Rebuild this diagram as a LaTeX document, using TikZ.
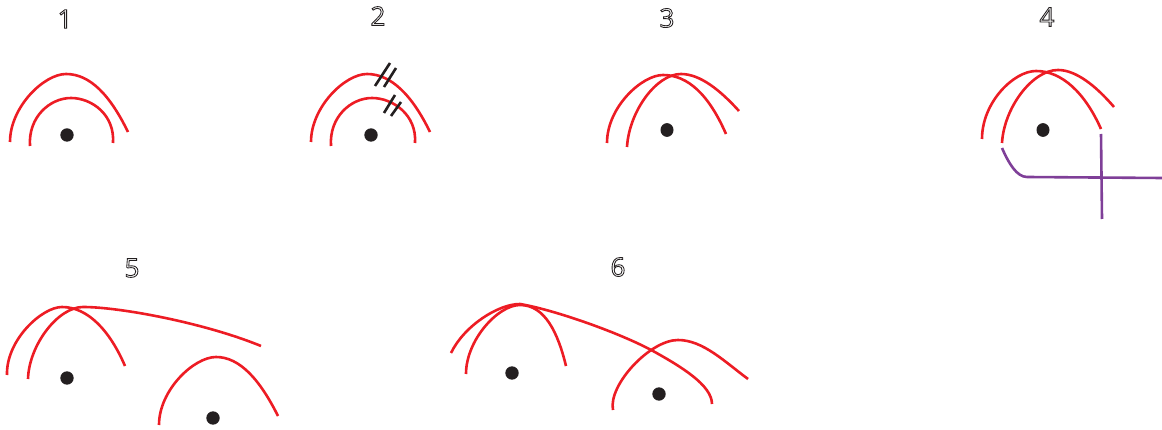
\documentclass[tikz,border=0pt]{standalone}
\usepackage{fontspec}
\setmainfont{Open Sans}
\definecolor{rd}{RGB}{237,28,36}
\definecolor{pp}{RGB}{127,63,152}
\definecolor{ink}{RGB}{35,31,32}
\newcommand{\outl}[1]{\special{pdf:code 1 Tr 0.85 w}#1\special{pdf:code 0 Tr}}
\tikzset{
  arc/.style={draw=rd,line width=2.6pt},
  purp/.style={draw=pp,line width=2.6pt},
  tick/.style={draw=ink,line width=2.6pt},
  dot/.style={fill=ink,draw=none},
  num/.style={text=ink,font=\fontsize{26}{26}\selectfont,inner sep=0pt,anchor=center}
}
\begin{document}
\begin{tikzpicture}[x=1pt,y=-1pt]
\useasboundingbox (0,0) rectangle (1162,430);
% labels
\node[num] (n1) at (65,19) {\outl{1}};
\node[num] (n2) at (378,16) {\outl{2}};
\node[num] (n3) at (667,18) {\outl{3}};
\node[num] (n4) at (1047,17) {\outl{4}};
\node[num] (n5) at (132,268) {\outl{5}};
\node[num] (n6) at (618,267) {\outl{6}};
% 1
\draw[arc] (10,142) .. controls (10,107) and (44,74) .. (66,74) .. controls (90,74) and (110,95) .. (128,132);
\draw[arc] (30,146) .. controls (28,117) and (50,98) .. (71,98) .. controls (92,98) and (115,115) .. (113,143);
\fill[dot] (67,135) circle (6.7);
% 2
\draw[arc] (311,142) .. controls (311,107) and (345,74) .. (367,74) .. controls (391,74) and (412,95) .. (430,132);
\draw[arc] (331,146) .. controls (329,117) and (351,98) .. (372,98) .. controls (393,98) and (417,115) .. (415,143);
\fill[dot] (371,135) circle (6.7);
\draw[tick] (375,86) -- (390,63);
\draw[tick] (384,87) -- (396,68);
\draw[tick] (384,113) -- (395,95);
\draw[tick] (391,116) -- (401,102);
% 3
\draw[arc] (607,143) .. controls (607,107) and (642,75) .. (663,75) .. controls (688,75) and (709,95) .. (726,134);
\draw[arc] (627,147) .. controls (629,112) and (656,74) .. (681,74) .. controls (700,74) and (720,90) .. (739,111);
\fill[dot] (667,130) ellipse (6.5 and 6.9);
% 4
\draw[arc] (982,139) .. controls (982,102) and (1014,71) .. (1036,71) .. controls (1062,71) and (1085,93) .. (1101,129);
\draw[arc] (1002,143) .. controls (1004,108) and (1032,70) .. (1058,70) .. controls (1076,70) and (1096,86) .. (1114,107);
\fill[dot] (1043,130) ellipse (6.5 and 6.9);
\coordinate (a) at (1002,148);
\coordinate (b) at (1162,178);
\coordinate (c) at (1101,134);
\coordinate (d) at (1102,219);
\draw[purp] (a) .. controls (1009,164) and (1017,177) .. (1027,177) -- (b);
\draw[purp] (c) -- (d);
% 5
\draw[arc] (7,375) .. controls (6,340) and (42,307) .. (62,307) .. controls (88,307) and (110,331) .. (125,366);
\draw[arc] (28,379) .. controls (29,345) and (58,307) .. (83,307) .. controls (120,307) and (205,323) .. (261,346);
\fill[dot] (67,378) circle (6.7);
\draw[arc] (159,425) .. controls (159,390) and (194,357) .. (216,357) .. controls (240,357) and (260,380) .. (278,416);
\fill[dot] (213,418) circle (6.7);
% 6
\draw[arc] (451,353) .. controls (464,326) and (498,304) .. (520,304) .. controls (555,310) and (620,333) .. (653,351) .. controls (680,366) and (712,385) .. (712,404);
\draw[arc] (466,374) .. controls (466,340) and (498,305) .. (520,305) .. controls (545,305) and (558,333) .. (566,366);
\fill[dot] (512,373) circle (6.7);
\draw[arc] (613,410) .. controls (608,385) and (650,340) .. (678,340) .. controls (703,340) and (725,362) .. (748,379);
\fill[dot] (659,394) circle (6.7);
\end{tikzpicture}
\end{document}
